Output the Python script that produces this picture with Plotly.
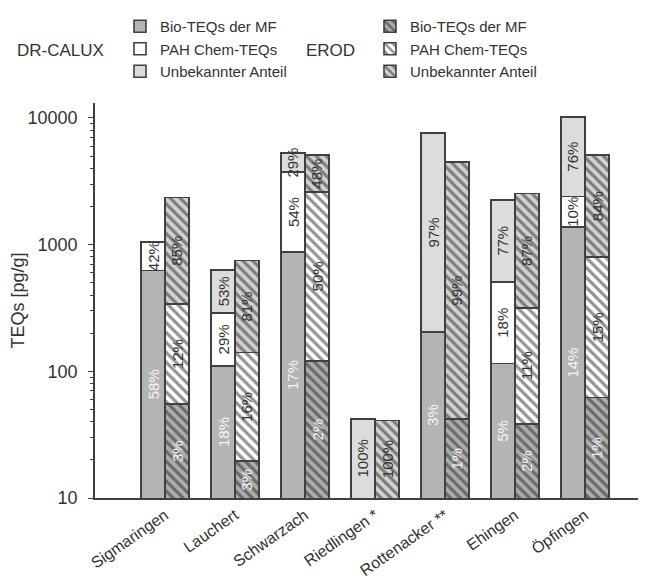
import math
import plotly.graph_objects as go

categories = ["Sigmaringen", "Lauchert", "Schwarzach", "Riedlingen *",
              "Rottenacker **", "Ehingen", "Öpfingen"]
series_names = ["Bio-TEQs der MF", "PAH Chem-TEQs", "Unbekannter Anteil"]

# DR-CALUX stacks (pg/g)
calux_bio = [625, 110, 875, 0, 205, 115, 1370]
calux_pah = [425, 180, 2850, 0, 0, 392, 1035]
calux_unk = [0, 340, 1560, 42, 7400, 1753, 7760]
# EROD stacks (pg/g)
erod_bio = [55, 19.5, 121, 0, 42, 38.5, 62]
erod_pah = [285, 121, 2480, 0, 0, 277, 736]
erod_unk = [2010, 607, 2470, 41, 4425, 2208, 4272]

# percentage labels as printed
calux_bio_lbl = ["58%", "18%", "17%", "", "3%", "5%", "14%"]
calux_pah_lbl = ["42%", "29%", "54%", "", "", "18%", "10%"]
calux_unk_lbl = ["", "53%", "29%", "100%", "97%", "77%", "76%"]
erod_bio_lbl = ["3%", "3%", "2%", "", "1%", "2%", "1%"]
erod_pah_lbl = ["12%", "16%", "50%", "", "", "11%", "15%"]
erod_unk_lbl = ["85%", "81%", "48%", "100%", "99%", "87%", "84%"]

y_ticks = [10, 100, 1000, 10000]

FONT = "Liberation Sans, Arial, sans-serif"
OUTLINE = "#404040"
HATCH = "#262626"
BAR_W = 0.343
OFF = BAR_W / 2

solid_colors = ["#b4b4b4", "#ffffff", "#dcdcdc"]
hatch_bg = ["#adadad", "#ffffff", "#d2d2d2"]
label_colors = ["#f4f4f4", "#333333", "#333333"]

idx = list(range(len(categories)))
x_calux = [i - OFF for i in idx]
x_erod = [i + OFF for i in idx]

fig = go.Figure()

calux_sets = [calux_bio, calux_pah, calux_unk]
erod_sets = [erod_bio, erod_pah, erod_unk]
calux_lbls = [calux_bio_lbl, calux_pah_lbl, calux_unk_lbl]
erod_lbls = [erod_bio_lbl, erod_pah_lbl, erod_unk_lbl]


def nz(vals):
    return [v if v > 0 else None for v in vals]


for k, name in enumerate(series_names):
    fig.add_trace(go.Bar(
        x=x_calux, y=nz(calux_sets[k]), width=BAR_W, name=name,
        legend="legend",
        marker=dict(color=solid_colors[k], line=dict(color=OUTLINE, width=1.6)),
        hoverinfo="skip",
    ))
for k, name in enumerate(series_names):
    fig.add_trace(go.Bar(
        x=x_erod, y=nz(erod_sets[k]), width=BAR_W, name=name,
        legend="legend2",
        marker=dict(color=hatch_bg[k], line=dict(color=OUTLINE, width=1.6),
                    pattern=dict(shape="\\", size=7, solidity=0.45,
                                 fgcolor=HATCH, bgcolor=hatch_bg[k],
                                 fillmode="overlay")),
        hoverinfo="skip",
    ))

annotations = []


def add_labels(xs, sets, lbls):
    for i in idx:
        base = 0.0
        for k in range(3):
            v = sets[k][i]
            if v > 0:
                lo = max(base, 10.0)
                hi = base + v
                yc = (math.log10(lo) + math.log10(hi)) / 2
                if lbls[k][i]:
                    annotations.append(dict(
                        x=xs[i], y=yc, xref="x", yref="y", text=lbls[k][i],
                        textangle=-90, showarrow=False,
                        font=dict(family=FONT, size=15, color=label_colors[k]),
                    ))
                base = hi


add_labels(x_calux, calux_sets, calux_lbls)
add_labels(x_erod, erod_sets, erod_lbls)

PL, PR, PT, PB = 87, 2, 95, 88
PW = 646 - PL - PR
PH = 578 - PT - PB


def px(xp):
    return (xp - PL) / PW


def py(yp):
    return (578 - yp - PB) / PH


annotations.append(dict(x=px(7), y=py(43), xref="paper", yref="paper", text="DR-CALUX",
                        showarrow=False, xanchor="left", yanchor="middle",
                        font=dict(family=FONT, size=17, color="#333")))
annotations.append(dict(x=px(296), y=py(43), xref="paper", yref="paper", text="EROD",
                        showarrow=False, xanchor="left", yanchor="middle",
                        font=dict(family=FONT, size=17, color="#333")))

minor_vals = [m * 10 ** d for d in range(1, 4) for m in range(2, 10)]

fig.update_layout(
    width=646, height=578,
    margin=dict(l=PL, r=PR, t=PT, b=PB),
    paper_bgcolor="white", plot_bgcolor="white",
    barmode="stack",
    font=dict(family=FONT, color="#333"),
    annotations=annotations,
    legend=dict(x=px(112), y=py(2), xanchor="left", yanchor="top",
                traceorder="normal", font=dict(family=FONT, size=15, color="#333"),
                bgcolor="rgba(0,0,0,0)", itemclick=False, tracegroupgap=0),
    legend2=dict(x=px(362), y=py(2), xanchor="left", yanchor="top",
                 traceorder="normal", font=dict(family=FONT, size=15, color="#333"),
                 bgcolor="rgba(0,0,0,0)", itemclick=False, tracegroupgap=0),
    showlegend=True,
)

fig.update_xaxes(
    range=[-1, -1 + PW / 70.0],
    tickvals=idx, ticktext=categories, tickangle=-35,
    tickfont=dict(family=FONT, size=16, color="#333"),
    ticks="", showline=True, linecolor=OUTLINE, linewidth=1.6,
    showgrid=False, zeroline=False, automargin=False,
)
fig.update_yaxes(
    type="log", range=[1, 1 + PH / 126.7],
    tickvals=y_ticks, ticktext=[str(v) for v in y_ticks],
    tickfont=dict(family=FONT, size=18, color="#333"),
    ticks="outside", ticklen=5, tickwidth=1.2, tickcolor=OUTLINE,
    ticklabelstandoff=7,
    minor=dict(ticks="outside", ticklen=3, tickwidth=1, tickcolor=OUTLINE,
               tickvals=minor_vals, showgrid=False),
    showline=True, linecolor=OUTLINE, linewidth=1.6,
    showgrid=False, zeroline=False, automargin=False,
    title=dict(text="TEQs [pg/g]", font=dict(family=FONT, size=18, color="#333"),
               standoff=8),
)

fig.write_html("out.html")
